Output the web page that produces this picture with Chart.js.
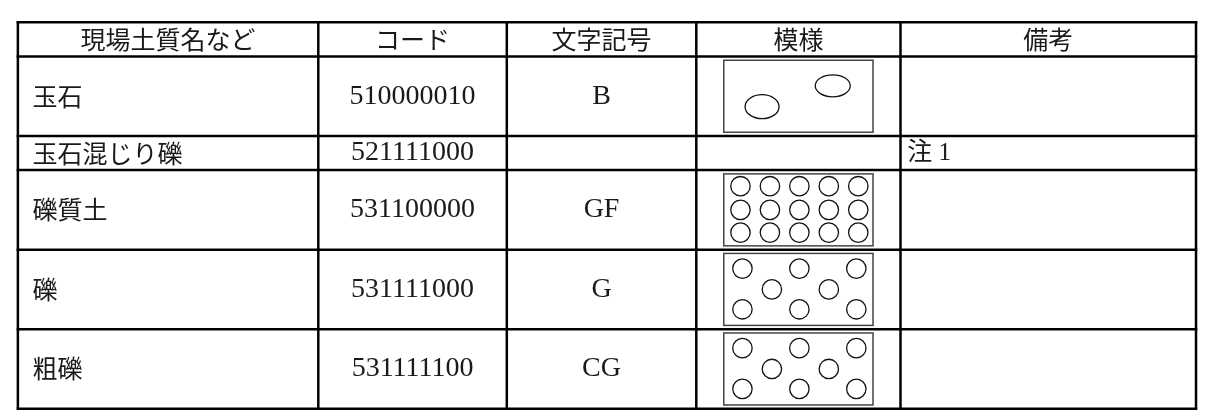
<!DOCTYPE html>
<html>
<head>
<meta charset="utf-8">
<script src="https://cdn.jsdelivr.net/npm/chart.js@4"></script>
<style>
  html, body { margin: 0; padding: 0; background: #fff; }
  #wrap { width: 1208px; height: 415px; }
</style>
</head>
<body>
<div id="wrap"><canvas id="tableChart" width="1208" height="415"></canvas></div>
<script>
// table content
const headers = ['現場土質名など', 'コード', '文字記号', '模様', '備考'];
const soilNames = ['玉石', '玉石混じり礫', '礫質土', '礫', '粗礫'];
const codes = ['510000010', '521111000', '531100000', '531111000', '531111100'];
const symbols = ['B', '', 'GF', 'G', 'CG'];
const patterns = ['cobble', null, 'dense', 'gravel', 'gravel'];
const notes = ['', '注 1', '', '', ''];

// layout (pixel units of the scales)
const colEdges = [7, 313, 505, 698, 906, 1207];
const rowEdges = [12, 48, 132, 168, 252, 336, 420];
const boxInsetX = 28, boxInsetY = 4;

// pattern shapes, relative to the pattern box
const patternDots = {
    dense: [[17, 13], [47, 13], [77, 13], [107, 13], [137, 13],
            [17, 38], [47, 38], [77, 38], [107, 38], [137, 38],
            [17, 62], [47, 62], [77, 62], [107, 62], [137, 62]],
    gravel: [[19, 16], [77, 16], [135, 16],
             [49, 38], [107, 38],
             [19, 59], [77, 59], [135, 59]]
};
const cobbleEllipses = [[111, 27, 17.5, 11], [39, 49, 17, 12]];

const cjkFont = '"Noto Sans CJK JP", sans-serif';
const mixFont = '"Liberation Serif", "Noto Sans CJK JP", serif';

function boxOf(row) {
    return {
        x: colEdges[3] + boxInsetX,
        y: rowEdges[row + 1] + boxInsetY,
        w: colEdges[4] - colEdges[3] - 2 * boxInsetX,
        h: rowEdges[row + 2] - rowEdges[row + 1] - 2 * boxInsetY
    };
}

let dots = [];
patterns.forEach((p, i) => {
    if (!patternDots[p]) return;
    let b = boxOf(i);
    patternDots[p].forEach(d => dots.push({ x: b.x + d[0], y: b.y + d[1] }));
});

const tablePlugin = {
    id: 'tablePlugin',
    beforeDatasetsDraw(chart) {
        let ctx = chart.ctx;
        let xs = chart.scales.x, ys = chart.scales.y;
        let px = v => xs.getPixelForValue(v);
        let py = v => ys.getPixelForValue(v);
        ctx.save();

        // pattern boxes and ellipses
        patterns.forEach((p, i) => {
            if (!p) return;
            let b = boxOf(i);
            ctx.strokeStyle = '#444';
            ctx.lineWidth = 1.5;
            ctx.strokeRect(px(b.x), py(b.y), px(b.x + b.w) - px(b.x), py(b.y + b.h) - py(b.y));
            if (p === 'cobble') {
                ctx.strokeStyle = '#111';
                ctx.lineWidth = 1.3;
                cobbleEllipses.forEach(e => {
                    ctx.beginPath();
                    ctx.ellipse(px(b.x + e[0]), py(b.y + e[1]), e[2], e[3], 0, 0, Math.PI * 2);
                    ctx.stroke();
                });
            }
        });

        // grid
        ctx.strokeStyle = '#000';
        ctx.lineWidth = 2.5;
        rowEdges.forEach(r => {
            ctx.beginPath();
            ctx.moveTo(px(colEdges[0]) - 1.25, py(r));
            ctx.lineTo(px(colEdges[colEdges.length - 1]) + 1.25, py(r));
            ctx.stroke();
        });
        colEdges.forEach(c => {
            ctx.beginPath();
            ctx.moveTo(px(c), py(rowEdges[0]) - 1.25);
            ctx.lineTo(px(c), py(rowEdges[rowEdges.length - 1]));
            ctx.stroke();
        });

        // text
        ctx.fillStyle = '#1a1a1a';
        ctx.textBaseline = 'middle';
        let mid = (a, b) => (a + b) / 2;
        ctx.font = '25px ' + cjkFont;
        ctx.textAlign = 'center';
        headers.forEach((h, i) => {
            ctx.fillText(h, px(mid(colEdges[i], colEdges[i + 1])), py(mid(rowEdges[0], rowEdges[1])));
        });
        soilNames.forEach((s, i) => {
            let cy = py(mid(rowEdges[i + 1], rowEdges[i + 2]));
            ctx.font = '25px ' + cjkFont;
            ctx.textAlign = 'left';
            ctx.fillText(s, px(colEdges[0] + 15), cy);
            ctx.font = '28px ' + mixFont;
            ctx.textAlign = 'center';
            ctx.fillText(codes[i], px(mid(colEdges[1], colEdges[2])), cy);
            ctx.fillText(symbols[i], px(mid(colEdges[2], colEdges[3])), cy);
            ctx.textAlign = 'left';
            ctx.font = '25px ' + mixFont;
            ctx.fillText(notes[i], px(colEdges[4] + 7), cy);
        });
        ctx.restore();
    }
};

new Chart(document.getElementById('tableChart').getContext('2d'), {
    type: 'scatter',
    data: {
        datasets: [{
            label: 'pattern',
            data: dots,
            pointRadius: 9.7,
            pointBorderWidth: 1.3,
            pointBorderColor: '#111',
            pointBackgroundColor: 'rgba(0,0,0,0)'
        }]
    },
    options: {
        responsive: false,
        animation: false,
        events: [],
        layout: { padding: 0 },
        plugins: { legend: { display: false }, tooltip: { enabled: false } },
        scales: {
            x: { type: 'linear', min: 0, max: 1208, display: false },
            y: { type: 'linear', min: 0, max: 415, reverse: true, display: false }
        }
    },
    plugins: [tablePlugin]
});
</script>
</body>
</html>
